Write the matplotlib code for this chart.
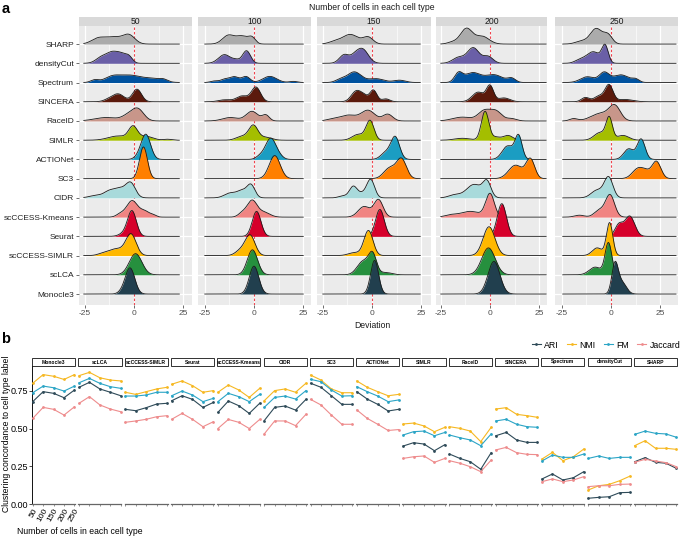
import numpy as np
import matplotlib
matplotlib.use('Agg')
import matplotlib.pyplot as plt
from matplotlib.patches import Rectangle
from matplotlib.lines import Line2D

plt.rcParams['font.family'] = ['Liberation Sans', 'DejaVu Sans']

W, H = 682, 537

# ---------------- data ----------------
methods = ["Monocle3", "scLCA", "scCCESS-SIMLR", "Seurat", "scCCESS-Kmeans", "CIDR", "SC3",
           "ACTIONet", "SIMLR", "RaceID", "SINCERA", "Spectrum", "densityCut", "SHARP"]
ridge_colors = ["#213F4E", "#26903E", "#FFB800", "#D6002B", "#F08482", "#A8DADB", "#FF7F00",
                "#1B9DC2", "#A4BE00", "#C8968A", "#5B1A0C", "#00529F", "#6A5FA7", "#ABABAB"]
cell_numbers = ["50", "100", "150", "200", "250"]

# Ridge shapes: bumps (centre, width, height in row units), bottom -> top
ridges_50 = [
    [(-2, 2.4, 1.35), (-6, 2, 0.1)],
    [(0.8, 3.2, 1.1)],
    [(-1.5, 2.6, 1.08), (-9, 4, 0.35), (-16, 2.5, 0.08)],
    [(-1, 2.2, 1.3), (-5, 2.5, 0.15)],
    [(-1, 2.8, 0.85), (5.5, 2.5, 0.3), (-7, 2, 0.15), (10, 1.5, 0.08)],
    [(-19, 3.5, 0.13), (-13, 2.5, 0.2), (-7, 4, 0.5), (-1.5, 2.3, 0.62)],
    [(4.8, 2.0, 1.65)],
    [(6, 2.4, 1.3), (2, 2, 0.1)],
    [(-8, 5, 0.22), (-0.5, 2.2, 0.65), (6, 3.5, 0.2), (17, 2, 0.05)],
    [(-14, 6, 0.18), (-3, 3, 0.25), (2, 3, 0.6)],
    [(-13, 2.5, 0.1), (-8, 3, 0.4), (1.5, 2.3, 0.65)],
    [(-20, 2, 0.13), (-11, 4, 0.3), (-2, 5, 0.35), (9, 5, 0.2), (15, 2, 0.1)],
    [(-16, 3, 0.35), (-11, 2.5, 0.45), (-6.5, 2.5, 0.45), (-2.5, 1.8, 0.3)],
    [(-18, 3.5, 0.3), (-10, 4, 0.35), (-2.5, 3, 0.45)],
]
ridges_100 = [
    [(0, 2.4, 1.45)],
    [(-0.8, 2.6, 1.3)],
    [(-2, 2.5, 1.05), (-7, 2.5, 0.25)],
    [(1.3, 2.2, 1.3)],
    [(-1, 2.5, 0.85), (-6, 2, 0.2), (5, 3, 0.25)],
    [(-12, 3, 0.25), (-6, 2.5, 0.35), (-1.5, 2, 0.65)],
    [(10.5, 2.8, 1.2)],
    [(8.5, 2.7, 1.1), (3, 2, 0.15), (13, 2, 0.1)],
    [(-0.3, 2.3, 0.75), (-6, 3, 0.2), (6, 3, 0.15)],
    [(-12, 4, 0.18), (-1, 3, 0.5), (6, 1.8, 0.3)],
    [(-15, 3, 0.1), (-6, 3, 0.3), (1, 2.3, 0.75)],
    [(-20, 2, 0.08), (-15, 2, 0.15), (-10, 2.5, 0.3), (-4, 2, 0.3), (8, 3.5, 0.32), (20, 2, 0.06)],
    [(-15, 3, 0.45), (-9, 2, 0.15), (-3.8, 2, 0.65)],
    [(-13, 3, 0.45), (-6, 3, 0.4), (-1, 1.8, 0.3)],
]
ridges_150 = [
    [(1.3, 2.0, 1.75)],
    [(0.3, 2, 1.0), (-4.5, 3, 0.7), (7, 3, 0.12)],
    [(-1.8, 2.3, 1.3), (-9, 3, 0.15)],
    [(4, 2.2, 1.4)],
    [(3.3, 2.3, 0.9), (-4, 3, 0.55)],
    [(-15, 2, 0.1), (-9.5, 2, 0.6), (-5, 2, 0.2), (-0.7, 2, 0.95)],
    [(15, 2.5, 1.0), (9, 3, 0.55)],
    [(11.8, 2.2, 1.15), (7, 2.5, 0.35)],
    [(-1, 2, 1.0), (-7, 3, 0.3)],
    [(-20, 3, 0.1), (-12, 4, 0.3), (-2, 3.5, 0.55), (8, 2.5, 0.35)],
    [(-8, 2.5, 0.55), (-4, 2, 0.25), (0.7, 1.8, 0.6), (7, 2, 0.15)],
    [(-16, 2.5, 0.15), (-9, 3.5, 0.55), (2, 4, 0.2), (14, 3, 0.12)],
    [(-14, 2.5, 0.45), (-9, 2, 0.2), (-5, 3, 0.75)],
    [(-19, 3, 0.12), (-11, 4, 0.5), (-2, 2.5, 0.35)],
]
ridges_200 = [
    [(2, 3, 1.7)],
    [(-0.8, 3.4, 1.4)],
    [(-0.5, 3, 1.5)],
    [(6, 2.3, 1.7)],
    [(-20, 3, 0.1), (-10, 5, 0.3), (0, 2.2, 1.2)],
    [(-18, 3, 0.15), (-8, 4, 0.7), (-1.5, 2, 0.75)],
    [(13, 3.5, 0.7), (20.5, 2.2, 1.0)],
    [(9, 2.8, 0.7), (14.5, 1.8, 1.2)],
    [(-14, 4, 0.1), (-2.5, 1.9, 1.5), (3, 2, 0.15), (9, 2.5, 0.25)],
    [(-14, 5, 0.2), (-3, 3, 0.5), (3, 3, 0.5), (11, 2.5, 0.12)],
    [(-6, 3, 0.5), (0, 1.8, 0.8), (7, 3, 0.2)],
    [(-16, 2, 0.45), (-9, 4, 0.5), (2, 4.5, 0.4), (11, 2, 0.2)],
    [(-16, 3, 0.3), (-8.5, 3, 0.8), (-1, 2.5, 0.35)],
    [(-19, 2.5, 0.1), (-12, 3, 0.8), (-4, 3.5, 0.4)],
]
ridges_250 = [
    [(2, 1.6, 1.5), (5.5, 2.3, 0.6)],
    [(-8, 3, 0.4), (-1.3, 1.7, 1.65)],
    [(-7, 2.5, 0.4), (-0.7, 1.6, 1.7)],
    [(4, 2, 0.6), (9.5, 2.5, 1.05)],
    [(-16, 2.5, 0.1), (-6, 2.5, 0.35), (-0.5, 2.3, 1.15)],
    [(-7, 3, 0.4), (-1.2, 2.2, 1.05)],
    [(14, 3, 0.55), (18, 2, 0.2), (23, 2.3, 0.9)],
    [(9, 2.5, 0.55), (15.3, 2, 1.05)],
    [(-5.5, 3, 0.4), (-0.9, 1.6, 1.1), (6, 3, 0.25)],
    [(-19, 2, 0.12), (-5, 5, 0.4), (2, 2.8, 0.7)],
    [(-13, 2, 0.22), (-6, 2.5, 0.3), (-1, 2, 0.85), (7, 4, 0.12)],
    [(-12, 3.5, 0.3), (-3.5, 2.5, 0.5), (5, 4, 0.4), (12.5, 1.8, 0.15)],
    [(-16, 2.5, 0.15), (-9, 3.5, 0.6), (-3, 1.6, 0.85)],
    [(-15, 3, 0.15), (-7.5, 3, 0.8), (-1.5, 2.2, 0.45)],
]
ridge_panels = [ridges_50, ridges_100, ridges_150, ridges_200, ridges_250]
baseline_ranges = [(-25.5, 23), (-25, 25), (-25, 24.5), (-25, 28.5), (-24.5, 33)]

metrics = ["ARI", "NMI", "FM", "Jaccard"]
metric_colors = ["#2E4A58", "#F6B822", "#2BA5C6", "#EE8C8D"]
ari = [[.678, .744, .733, .704, .755], [.773, .806, .762, .740, .717], [.627, .618, .638, .662, .667],
       [.684, .717, .693, .640, .673], [.607, .682, .651, .600, .667], [.552, .640, .649, .622, .693],
       [.800, .773, .717, .660, .660], [.744, .695, .660, .616, .627], [.384, .406, .397, .353, .393],
       [.331, .302, .280, .230, .340], [.452, .474, .424, .408, .408], [.166, .199, .159, .174, .214],
       [.038, .044, .048, .075, .077], [.280, .307, .276, .270, .236]]
nmi = [[.800, .857, .846, .825, .857], [.850, .872, .836, .821, .815], [.740, .726, .744, .762, .773],
       [.793, .815, .784, .740, .751], [.740, .788, .755, .706, .766], [.684, .751, .762, .740, .800],
       [.854, .821, .762, .737, .737], [.815, .773, .744, .717, .726], [.530, .536, .517, .479, .508],
       [.512, .501, .483, .413, .508], [.629, .638, .594, .585, .574], [.298, .342, .287, .313, .364],
       [.093, .121, .130, .154, .185], [.386, .419, .369, .369, .362]]
fm = [[.737, .781, .770, .748, .781], [.803, .832, .799, .777, .766], [.715, .715, .722, .740, .740],
      [.717, .748, .722, .678, .700], [.678, .733, .711, .678, .726], [.640, .706, .715, .695, .751],
      [.826, .810, .755, .715, .717], [.777, .744, .715, .678, .689], [.457, .479, .483, .452, .474],
      [.457, .439, .424, .386, .464], [.550, .561, .528, .512, .508], [.285, .324, .309, .309, .331],
      [.302, .318, .302, .309, .309], [.461, .483, .468, .464, .442]]
jaccard = [[.567, .640, .627, .589, .644], [.667, .711, .656, .629, .611], [.541, .550, .561, .578, .585],
           [.561, .600, .561, .512, .545], [.500, .560, .541, .500, .560], [.464, .550, .550, .519, .594],
           [.693, .656, .589, .528, .528], [.623, .567, .528, .487, .493], [.302, .313, .318, .276, .302],
           [.287, .270, .247, .214, .291], [.358, .375, .340, .329, .327], [.148, .166, .148, .159, .181],
           [.115, .121, .121, .130, .132], [.276, .296, .285, .274, .247]]
metric_values = [ari, nmi, fm, jaccard]


def box(l, t, r, b):
    return [l / W, 1 - b / H, (r - l) / W, (b - t) / H]


def ridge_curve(x, bumps):
    y = np.zeros_like(x)
    for mu, sd, h in bumps:
        y += h * np.exp(-0.5 * ((x - mu) / sd) ** 2)
    return y


fig = plt.figure(figsize=(W / 100, H / 100), dpi=100)

# ---------------- panel a ----------------
panel_px = [(79, 192), (198, 311), (317, 431), (436, 547), (555, 678)]
zero_px = [134, 254, 372, 490, 611]
pxu = 1.97
a_top, a_bot = 26, 305
for p in range(5):
    l, r = panel_px[p]
    ax = fig.add_axes(box(l, a_top, r, a_bot))
    ax.set_facecolor('#EBEBEB')
    ax.set_xlim((l - zero_px[p]) / pxu, (r - zero_px[p]) / pxu)
    ax.set_ylim(0.43, 14.94)
    for s in ax.spines.values():
        s.set_visible(False)
    ax.set_xticks([-25, 0, 25])
    ax.set_xticks([-12.5, 12.5], minor=True)
    ax.set_xticklabels(["-25", "0", "25"])
    ax.grid(which='major', axis='x', color='white', lw=0.9, zorder=0)
    ax.grid(which='minor', axis='x', color='white', lw=0.45, zorder=0)
    ax.set_yticks(range(1, 15))
    ax.grid(which='major', axis='y', color='white', lw=0.9, zorder=0)
    ax.set_axisbelow(True)
    ax.tick_params(axis='x', which='major', length=2, color='#333333', labelsize=6,
                   labelcolor='#4D4D4D', pad=1.5, width=0.5)
    ax.tick_params(axis='x', which='minor', length=0)
    if p == 0:
        ax.set_yticklabels(methods)
        ax.tick_params(axis='y', length=2, color='#333333', labelsize=6,
                       labelcolor='#222222', pad=1.5, width=0.5)
    else:
        ax.set_yticklabels([])
        ax.tick_params(axis='y', length=0)
    ax.axvline(0, color='#F0434D', ls=(0, (2.2, 1.8)), lw=0.8, zorder=1.5)
    lo, hi = baseline_ranges[p]
    x = np.linspace(lo, hi, 500)
    for i in range(13, -1, -1):
        base = i + 1
        yv = ridge_curve(x, ridge_panels[p][i])
        z = 2 + (13 - i) * 0.2
        ax.fill_between(x, base, base + yv, color=ridge_colors[i], lw=0, zorder=z)
        ax.plot(x, base + yv, color='#1A1A1A', lw=0.6, zorder=z + 0.1)
    # strip
    ax.add_patch(Rectangle((0, 1), 1, 9 / (a_bot - a_top), transform=ax.transAxes,
                           facecolor='#D9D9D9', edgecolor='none', clip_on=False))
    ax.text(0.5, 1 + 4.5 / (a_bot - a_top), cell_numbers[p], transform=ax.transAxes,
            ha='center', va='center', fontsize=6.2, color='#1A1A1A')

fig.text(372 / W, 1 - 7 / H, "Number of cells in each cell type", ha='center', va='center',
         fontsize=6.2, color='#1A1A1A')
fig.text(372 / W, 1 - 325 / H, "Deviation", ha='center', va='center', fontsize=6.2, color='#1A1A1A')
fig.text(2 / W, 1 - 9 / H, "a", ha='left', va='center', fontsize=10.5, fontweight='bold')
fig.text(1 / W, 1 - 339 / H, "b", ha='left', va='center', fontsize=10.5, fontweight='bold')

# ---------------- panel b ----------------
b_top, b_bot = 366, 504
b_left, b_w, b_step = 32, 43.2, 46.3
xpos = np.arange(1, 6)
for k in range(14):
    l = b_left + k * b_step
    ax = fig.add_axes(box(l, b_top, l + b_w, b_bot))
    ax.set_facecolor('white')
    ax.set_xlim(0.93, 5.07)
    ax.set_ylim(0, 0.914)
    for side in ['top', 'right']:
        ax.spines[side].set_visible(False)
    ax.spines['bottom'].set_color('#666666')
    ax.spines['bottom'].set_linewidth(0.9)
    ax.set_xticks(xpos)
    if k == 0:
        ax.spines['left'].set_color('#111111')
        ax.spines['left'].set_linewidth(0.7)
        ax.set_yticks([0, 0.25, 0.5, 0.75])
        ax.set_yticklabels(["0.00", "0.25", "0.50", "0.75"])
        ax.tick_params(axis='y', length=2, labelsize=6.5, pad=1, width=0.5)
        ax.set_xticklabels(cell_numbers, rotation=60, ha='right', rotation_mode='anchor')
        ax.tick_params(axis='x', length=1.5, labelsize=6, pad=1, width=0.5, color='#666666')
    else:
        ax.spines['left'].set_visible(False)
        ax.set_yticks([])
        ax.set_xticklabels([])
        ax.tick_params(axis='x', length=1.5, width=0.5, color='#666666')
    for m in range(4):
        ax.plot(xpos, metric_values[m][k], color=metric_colors[m], lw=0.8, marker='o',
                markersize=2.0, markeredgewidth=0, clip_on=False, zorder=3 + m * 0.1)
    sh = 8 / (b_bot - b_top)
    ax.add_patch(Rectangle((0, 1.0), 1, sh, transform=ax.transAxes, facecolor='white',
                           edgecolor='#111111', lw=0.6, clip_on=False))
    ax.text(0.5, 1 + sh / 2, methods[k], transform=ax.transAxes, ha='center', va='center',
            fontsize=3.6, fontweight='bold')

handles = [Line2D([], [], color=c, lw=0.8, marker='o', markersize=2.0, markeredgewidth=0)
           for c in metric_colors]
fig.legend(handles, metrics, loc='center right', bbox_to_anchor=(1.0, 1 - 345 / H), ncol=4,
           frameon=False, fontsize=6.3, handlelength=1.1, handletextpad=0.35, columnspacing=0.9,
           borderaxespad=0.1, borderpad=0.1)

fig.text(7 / W, 1 - 434 / H, "Clustering concordance to cell type label", rotation=90,
         ha='center', va='center', fontsize=6.2)
fig.text(17 / W, 1 - 532 / H, "Number of cells in each cell type", ha='left', va='center',
         fontsize=6.2)

fig.savefig("out.png", dpi=100)
